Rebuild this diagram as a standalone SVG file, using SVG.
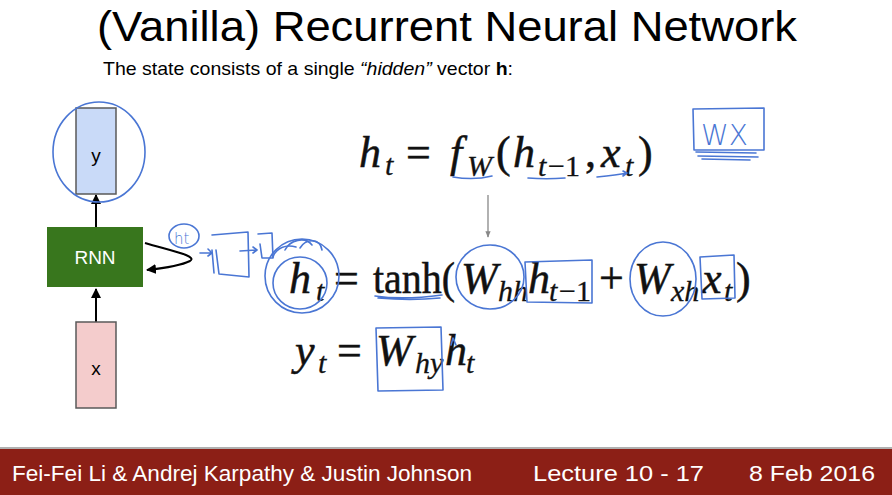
<svg xmlns="http://www.w3.org/2000/svg" width="892" height="495" viewBox="0 0 892 495">
<defs>
<style>
.title{font-family:"Liberation Sans",Arial,sans-serif;fill:#000}
.lbl{font-family:"Liberation Sans",Arial,sans-serif;font-size:19px;fill:#000;text-anchor:middle}
.m{font-family:"Liberation Serif","Times New Roman",serif;font-size:44px;fill:#111;stroke:#111;stroke-width:0.5}
.mi{font-family:"Liberation Serif","Times New Roman",serif;font-size:44px;font-style:italic;fill:#111;stroke:#111;stroke-width:0.5}
.s{font-family:"Liberation Serif","Times New Roman",serif;font-size:30px;fill:#111;stroke:#111;stroke-width:0.3}
.si{font-family:"Liberation Serif","Times New Roman",serif;font-size:30px;font-style:italic;fill:#111;stroke:#111;stroke-width:0.3}
.pen{fill:none;stroke:#4a76d4;stroke-width:1.6;stroke-linecap:round;stroke-linejoin:round}
.hand{font-family:"DejaVu Sans",sans-serif;font-weight:200;fill:#4a76d4}
.edge{fill:none;stroke:#000;stroke-width:2}
.foot{font-family:"Liberation Sans",Arial,sans-serif;font-size:22px;fill:#fff}
</style>
<marker id="ah" viewBox="0 0 10 10" refX="9" refY="5" markerWidth="5" markerHeight="5" orient="auto-start-reverse">
<path d="M0,0 L10,5 L0,10 z" fill="#000"/>
</marker>
<marker id="ahg" viewBox="0 0 10 10" refX="9" refY="5" markerWidth="5" markerHeight="5" orient="auto">
<path d="M0,1 L10,5 L0,9 z" fill="#888"/>
</marker>
</defs>
<rect width="892" height="495" fill="#fff"/>

<text class="title" x="97" y="41" font-size="42" textLength="700" lengthAdjust="spacingAndGlyphs">(Vanilla) Recurrent Neural Network</text>
<text class="title" x="103" y="75" font-size="19" textLength="410" lengthAdjust="spacingAndGlyphs">The state consists of a single <tspan font-style="italic">“hidden”</tspan> vector <tspan font-weight="bold">h</tspan>:</text>

<g id="connectors">
<line class="edge" x1="96" y1="227" x2="96" y2="195" marker-end="url(#ah)"/>
<line class="edge" x1="96" y1="322" x2="96" y2="289" marker-end="url(#ah)"/>
<path class="edge" d="M145,243 C172,251 198,256 190,261 C182,265 165,268 147,270" marker-end="url(#ah)"/>
<line x1="488" y1="195" x2="488" y2="237" stroke="#888" stroke-width="1.3" marker-end="url(#ahg)"/>
</g>

<g id="node-y">
<rect x="76" y="108" width="40" height="86" fill="#c9daf8" stroke="#595959" stroke-width="1.5"/>
<text class="lbl" x="96" y="162">y</text>
</g>
<g id="node-rnn">
<rect x="47" y="227" width="96" height="60" fill="#38761d"/>
<text class="lbl" x="95" y="264" style="fill:#fff">RNN</text>
</g>
<g id="node-x">
<rect x="76" y="322" width="40" height="86" fill="#f4cccc" stroke="#595959" stroke-width="1.5"/>
<text class="lbl" x="96" y="375">x</text>
</g>

<g id="eq1">
<text class="mi" x="359" y="167">h</text><text class="si" x="385" y="175">t</text>
<text class="m" x="406" y="167">=</text>
<text class="mi" x="450" y="167">f</text><text class="si" x="467" y="176">W</text>
<text class="m" x="496" y="167">(</text>
<text class="mi" x="513" y="167">h</text><text class="si" x="538" y="176">t</text><text class="s" x="548" y="176">−1</text>
<text class="m" x="585" y="167">,</text>
<text class="mi" x="601" y="167">x</text><text class="si" x="625" y="176">t</text>
<text class="m" x="638" y="167">)</text>
</g>

<g id="eq2">
<text class="mi" x="289" y="293">h</text><text class="si" x="316" y="301">t</text>
<text class="m" x="334" y="293">=</text>
<text class="m" x="373" y="293" textLength="82" lengthAdjust="spacingAndGlyphs">tanh(</text>
<text class="mi" x="461" y="293">W</text><text class="si" x="498" y="301">hh</text>
<text class="mi" x="528" y="293">h</text><text class="si" x="549" y="301">t</text><text class="s" x="559" y="301">−1</text>
<text class="m" x="599" y="293">+</text>
<text class="mi" x="634" y="293">W</text><text class="si" x="671" y="301">xh</text>
<text class="mi" x="702" y="293">x</text><text class="si" x="724" y="301">t</text>
<text class="m" x="736" y="293">)</text>
</g>

<g id="eq3">
<text class="mi" x="295" y="365">y</text><text class="si" x="318" y="373">t</text>
<text class="m" x="337" y="365">=</text>
<text class="mi" x="376" y="365">W</text><text class="si" x="415" y="373">hy</text>
<text class="mi" x="445" y="365">h</text><text class="si" x="466" y="373">t</text>
</g>

<g id="annotations">
<ellipse class="pen" cx="99" cy="152" rx="46" ry="50"/>
<ellipse class="pen" cx="184" cy="236" rx="15" ry="12"/>
<text class="hand" x="174" y="244" font-size="15">ht</text>
<path class="pen" d="M200,253 L212,253 M208,249 L212,253 L208,256"/>
<path class="pen" d="M212,235 L248,232 L249,277 L219,274 L216,250 M212,250 L214,273"/>
<path class="pen" d="M240,251 L257,250 M253,247 L257,250 L253,253"/>
<path class="pen" d="M258,234 L272,233 L273,258 L262,258 L260,244"/>
<path class="pen" d="M273,257 C276,248 286,244 296,247"/>
<ellipse class="pen" cx="302" cy="276" rx="37" ry="37"/>
<ellipse class="pen" cx="300" cy="283" rx="27" ry="26"/>
<path class="pen" d="M285,250 C290,240 305,236 312,245 M300,248 C306,238 320,238 322,250"/>
<path class="pen" d="M453,177 C465,179 480,179 492,176"/>
<path class="pen" d="M528,178 C540,179 553,179 565,178"/>
<path class="pen" d="M597,177 C608,176 618,175 627,173 M623,171 L627,173 L623,176"/>
<path class="pen" d="M693,109 L764,108 L764,150 L694,150 Z"/>
<text class="hand" x="701" y="145" font-size="28">WX</text>
<path class="pen" d="M696,152 L756,153 M698,156 L758,157 M702,159 L750,160"/>
<path class="pen" d="M375,296 C395,299 420,298 442,295 M378,298 C400,300 420,300 440,298"/>
<ellipse class="pen" cx="490" cy="277" rx="34" ry="32"/>
<path class="pen" d="M525,262 L592,260 L592,303 L527,302 Z"/>
<ellipse class="pen" cx="663" cy="279" rx="33" ry="37"/>
<path class="pen" d="M700,257 L734,255 L735,298 L702,299 Z"/>
<path class="pen" d="M376,328 L441,327 L443,390 L378,391 Z"/>
<path class="pen" d="M451,345 L453,338 L456,345"/>
</g>

<g id="footer">
<rect x="0" y="447" width="892" height="2" fill="#b0b0b0"/>
<rect x="0" y="449" width="892" height="46" fill="#8c1f16"/>
<text class="foot" x="12" y="481" textLength="460" lengthAdjust="spacingAndGlyphs">Fei-Fei Li &amp; Andrej Karpathy &amp; Justin Johnson</text>
<text class="foot" x="533" y="481" textLength="171" lengthAdjust="spacingAndGlyphs">Lecture 10 -  17</text>
<text class="foot" x="749" y="481" textLength="126" lengthAdjust="spacingAndGlyphs">8 Feb 2016</text>
</g>
</svg>
